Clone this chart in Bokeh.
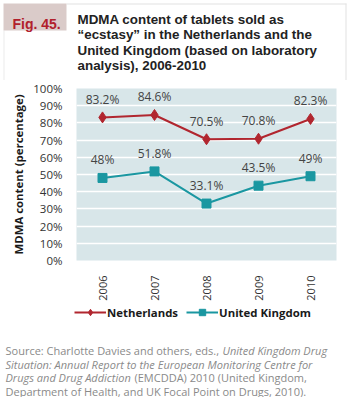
from bokeh.plotting import figure
from bokeh.layouts import column, row
from bokeh.models import (Label, BoxAnnotation, Legend, LegendItem, ColumnDataSource,
                          FixedTicker, CustomJSTickFormatter, Range1d)
from bokeh.core.properties import value
from bokeh.embed import file_html
from bokeh.resources import INLINE
import math

years = ["2006", "2007", "2008", "2009", "2010"]
netherlands = [83.2, 84.6, 70.5, 70.8, 82.3]
united_kingdom = [48, 51.8, 33.1, 43.5, 49]
y_ticks = [0, 10, 20, 30, 40, 50, 60, 70, 80, 90, 100]
series_names = ["Netherlands", "United Kingdom"]

fig_label = "Fig. 45."
title_lines = ["MDMA content of tablets sold as",
               "\u201cecstasy\u201d in the Netherlands and the",
               "United Kingdom (based on laboratory",
               "analysis), 2006-2010"]

NL_COLOR = "#b1262f"
UK_COLOR = "#1a97a1"
BG = "#d8e6e9"
W = 350


def blank(h):
    f = figure(frame_width=W, frame_height=h, x_range=Range1d(0, W), y_range=Range1d(h, 0),
               x_axis_type=None, y_axis_type=None, output_backend="svg",
               toolbar_location=None, min_border=0)
    f.outline_line_color = None
    f.background_fill_color = "white"
    f.border_fill_color = "white"
    return f


def lab(f, text, x, y, size, color, font="Liberation Sans", style="normal"):
    f.add_layout(Label(x=x, y=y, text=text, text_font=font, text_font_style=style,
                       text_font_size=size, text_color=color,
                       text_align="left", text_baseline="alphabetic"))


def box(f, l, t, r, b, color):
    f.add_layout(BoxAnnotation(left=l, right=r, top=t, bottom=b, fill_color=color,
                               fill_alpha=1, line_color=None, level="underlay"))


# ---------------- title ----------------
TH = 80
pt = blank(TH)
box(pt, 66, 3, 346, 4, "#e2e2e2")
box(pt, 345, 3, 346, TH, "#e2e2e2")
box(pt, 3, 30, 4, TH, "#ececec")
box(pt, 3, 3, 66, 30, "#dacbc9")
lab(pt, fig_label, 12, 23, "14px", "#b1202c", style="bold")
for i, t in enumerate(title_lines):
    lab(pt, t, 77, 19 + 15.3 * i, "13.4px", "#222222", style="bold")

# ---------------- chart ----------------
CB = 44
p = figure(frame_width=260, frame_height=172, x_range=years, y_range=(0, 100),
           output_backend="svg", toolbar_location=None,
           min_border_left=76, min_border_right=14, min_border_top=8, min_border_bottom=CB)
p.background_fill_color = BG
p.border_fill_color = "white"
p.outline_line_color = None
p.xgrid.grid_line_color = None
p.ygrid.grid_line_color = "white"
p.ygrid.grid_line_width = 1.5
p.yaxis.ticker = FixedTicker(ticks=y_ticks)
p.yaxis.formatter = CustomJSTickFormatter(code="return tick + '%';")
for ax in (p.xaxis, p.yaxis):
    ax.axis_line_color = None
    ax.major_tick_line_color = None
    ax.minor_tick_line_color = None
    ax.major_label_text_font = "Open Sans"
    ax.major_label_text_color = "#333333"
p.yaxis.major_label_text_font_size = "11.5px"
p.xaxis.major_label_text_font_size = "11px"
p.yaxis.major_label_standoff = 8
p.yaxis.axis_label = "MDMA content (percentage)"
p.yaxis.axis_label_text_font = "Open Sans"
p.yaxis.axis_label_text_font_style = "bold"
p.yaxis.axis_label_text_font_size = "11.4px"
p.yaxis.axis_label_text_color = "#1a1a1a"
p.yaxis.axis_label_standoff = 4
p.xaxis.major_label_orientation = math.pi / 2
p.xaxis.major_label_standoff = 9
p.x_range.range_padding = 0

src = ColumnDataSource(dict(
    year=years, nl=netherlands, uk=united_kingdom,
    nl_txt=[f"{v:g}%" for v in netherlands],
    uk_txt=[f"{v:g}%" for v in united_kingdom]))

p.line("year", "nl", source=src, color=NL_COLOR, line_width=2)
p.scatter("year", "nl", source=src, marker="diamond", size=11,
          fill_color=NL_COLOR, line_color=NL_COLOR)
p.line("year", "uk", source=src, color=UK_COLOR, line_width=2)
p.scatter("year", "uk", source=src, marker="square", size=9,
          fill_color=UK_COLOR, line_color=UK_COLOR)
for col in ("nl", "uk"):
    p.text("year", col, text=col + "_txt", source=src, y_offset=-18,
           text_align="center", text_baseline="middle",
           text_font=value("Open Sans"), text_font_size="12px",
           text_color="#444444")

# ---------------- legend + source ----------------
BH = 397 - TH - (8 + 172 + CB)
pb = blank(BH)
# one undrawable (NaN) row, so that the legend has visuals to sample
nan_src = ColumnDataSource(dict(x=[float("nan")], y=[float("nan")]))
l1 = pb.line("x", "y", source=nan_src, color=NL_COLOR, line_width=2)
m1 = pb.scatter("x", "y", source=nan_src, marker="diamond", size=8,
                fill_color=NL_COLOR, line_color=NL_COLOR)
l2 = pb.line("x", "y", source=nan_src, color=UK_COLOR, line_width=2)
m2 = pb.scatter("x", "y", source=nan_src, marker="square", size=7,
                fill_color=UK_COLOR, line_color=UK_COLOR)
legend = Legend(items=[LegendItem(label=series_names[0], renderers=[l1, m1]),
                       LegendItem(label=series_names[1], renderers=[l2, m2])],
                orientation="horizontal", location=(74, BH - 16),
                glyph_width=32, glyph_height=16, spacing=8, padding=3, margin=0,
                label_standoff=1,
                label_text_font="Open Sans", label_text_font_style="bold",
                label_text_font_size="11.4px", label_text_color="#1a1a1a",
                border_line_color=None, background_fill_alpha=0)
pb.add_layout(legend, "center")

SC = "#8a8a8a"
SF = "Open Sans"
SS = "11px"
o = 397 - BH
y0, dyl = 350, 13.5
lab(pb, "Source: Charlotte Davies and others, eds., ", 5, y0 - o, SS, SC, font=SF)
lab(pb, "United Kingdom Drug", 222, y0 - o, SS, SC, font=SF, style="italic")
lab(pb, "Situation: Annual Report to the European Monitoring Centre for", 5, y0 + dyl - o, SS, SC, font=SF, style="italic")
lab(pb, "Drugs and Drug Addiction", 5, y0 + 2 * dyl - o, SS, SC, font=SF, style="italic")
lab(pb, " (EMCDDA) 2010 (United Kingdom,", 134, y0 + 2 * dyl - o, SS, SC, font=SF)
lab(pb, "Department of Health, and UK Focal Point on Drugs, 2010).", 5, y0 + 3 * dyl - o, SS, SC, font=SF)

layout = column(row(pt), row(p), row(pb), spacing=0)
open("out.html", "w").write(file_html(layout, INLINE))
